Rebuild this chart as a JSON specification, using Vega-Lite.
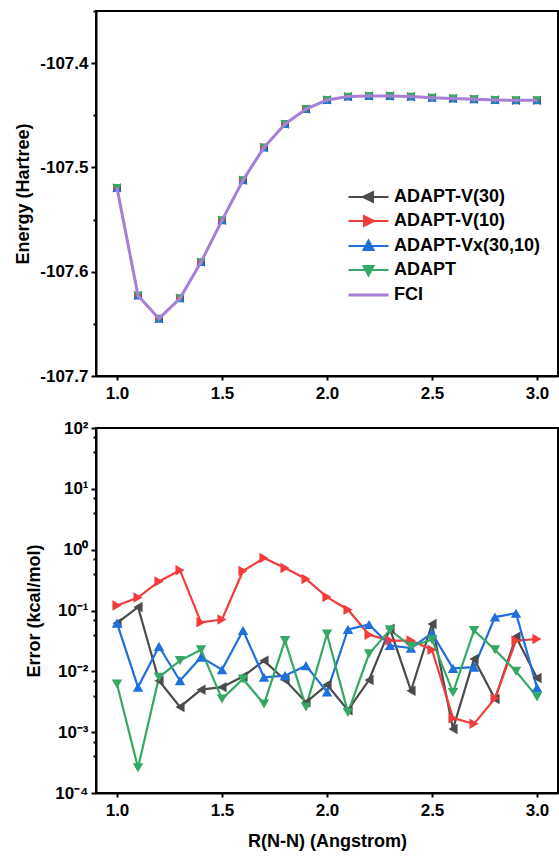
{
  "$schema": "https://vega.github.io/schema/vega-lite/v6.json",
  "autosize": {"type": "pad"},
  "padding": {"left": 13, "top": 9, "right": 0, "bottom": 0},
  "spacing": 52,
  "bounds": "flush",
  "config": {
    "view": {"stroke": "black", "strokeWidth": 2},
    "font": "Liberation Sans",
    "axis": {
      "labelFont": "Liberation Sans", "labelFontSize": 17, "labelFontWeight": "bold", "labelColor": "black",
      "titleFont": "Liberation Sans", "titleFontSize": 18, "titleFontWeight": "bold", "titleColor": "black",
      "domainColor": "black", "domainWidth": 2, "tickColor": "black", "tickWidth": 2, "grid": false, "labelPadding": 3
    }
  },
  "resolve": {"legend": {"color": "independent"}},
  "datasets": {
    "energy": [
      {"R":1.0,"method":"ADAPT-V(30)","E":-107.5196},{"R":1.1,"method":"ADAPT-V(30)","E":-107.6228},{"R":1.2,"method":"ADAPT-V(30)","E":-107.645},{"R":1.3,"method":"ADAPT-V(30)","E":-107.6254},{"R":1.4,"method":"ADAPT-V(30)","E":-107.5908},{"R":1.5,"method":"ADAPT-V(30)","E":-107.5507},{"R":1.6,"method":"ADAPT-V(30)","E":-107.5122},{"R":1.7,"method":"ADAPT-V(30)","E":-107.4808},{"R":1.8,"method":"ADAPT-V(30)","E":-107.4584},{"R":1.9,"method":"ADAPT-V(30)","E":-107.444},{"R":2.0,"method":"ADAPT-V(30)","E":-107.4353},{"R":2.1,"method":"ADAPT-V(30)","E":-107.4321},{"R":2.2,"method":"ADAPT-V(30)","E":-107.4314},{"R":2.3,"method":"ADAPT-V(30)","E":-107.4314},{"R":2.4,"method":"ADAPT-V(30)","E":-107.4321},{"R":2.5,"method":"ADAPT-V(30)","E":-107.4331},{"R":2.6,"method":"ADAPT-V(30)","E":-107.434},{"R":2.7,"method":"ADAPT-V(30)","E":-107.4346},{"R":2.8,"method":"ADAPT-V(30)","E":-107.4353},{"R":2.9,"method":"ADAPT-V(30)","E":-107.4356},{"R":3.0,"method":"ADAPT-V(30)","E":-107.4356},
      {"R":1.0,"method":"ADAPT-V(10)","E":-107.5196},{"R":1.1,"method":"ADAPT-V(10)","E":-107.6228},{"R":1.2,"method":"ADAPT-V(10)","E":-107.645},{"R":1.3,"method":"ADAPT-V(10)","E":-107.6254},{"R":1.4,"method":"ADAPT-V(10)","E":-107.5908},{"R":1.5,"method":"ADAPT-V(10)","E":-107.5507},{"R":1.6,"method":"ADAPT-V(10)","E":-107.5122},{"R":1.7,"method":"ADAPT-V(10)","E":-107.4808},{"R":1.8,"method":"ADAPT-V(10)","E":-107.4584},{"R":1.9,"method":"ADAPT-V(10)","E":-107.444},{"R":2.0,"method":"ADAPT-V(10)","E":-107.4353},{"R":2.1,"method":"ADAPT-V(10)","E":-107.4321},{"R":2.2,"method":"ADAPT-V(10)","E":-107.4314},{"R":2.3,"method":"ADAPT-V(10)","E":-107.4314},{"R":2.4,"method":"ADAPT-V(10)","E":-107.4321},{"R":2.5,"method":"ADAPT-V(10)","E":-107.4331},{"R":2.6,"method":"ADAPT-V(10)","E":-107.434},{"R":2.7,"method":"ADAPT-V(10)","E":-107.4346},{"R":2.8,"method":"ADAPT-V(10)","E":-107.4353},{"R":2.9,"method":"ADAPT-V(10)","E":-107.4356},{"R":3.0,"method":"ADAPT-V(10)","E":-107.4356},
      {"R":1.0,"method":"ADAPT-Vx(30,10)","E":-107.5196},{"R":1.1,"method":"ADAPT-Vx(30,10)","E":-107.6228},{"R":1.2,"method":"ADAPT-Vx(30,10)","E":-107.645},{"R":1.3,"method":"ADAPT-Vx(30,10)","E":-107.6254},{"R":1.4,"method":"ADAPT-Vx(30,10)","E":-107.5908},{"R":1.5,"method":"ADAPT-Vx(30,10)","E":-107.5507},{"R":1.6,"method":"ADAPT-Vx(30,10)","E":-107.5122},{"R":1.7,"method":"ADAPT-Vx(30,10)","E":-107.4808},{"R":1.8,"method":"ADAPT-Vx(30,10)","E":-107.4584},{"R":1.9,"method":"ADAPT-Vx(30,10)","E":-107.444},{"R":2.0,"method":"ADAPT-Vx(30,10)","E":-107.4353},{"R":2.1,"method":"ADAPT-Vx(30,10)","E":-107.4321},{"R":2.2,"method":"ADAPT-Vx(30,10)","E":-107.4314},{"R":2.3,"method":"ADAPT-Vx(30,10)","E":-107.4314},{"R":2.4,"method":"ADAPT-Vx(30,10)","E":-107.4321},{"R":2.5,"method":"ADAPT-Vx(30,10)","E":-107.4331},{"R":2.6,"method":"ADAPT-Vx(30,10)","E":-107.434},{"R":2.7,"method":"ADAPT-Vx(30,10)","E":-107.4346},{"R":2.8,"method":"ADAPT-Vx(30,10)","E":-107.4353},{"R":2.9,"method":"ADAPT-Vx(30,10)","E":-107.4356},{"R":3.0,"method":"ADAPT-Vx(30,10)","E":-107.4356},
      {"R":1.0,"method":"ADAPT","E":-107.5196},{"R":1.1,"method":"ADAPT","E":-107.6228},{"R":1.2,"method":"ADAPT","E":-107.645},{"R":1.3,"method":"ADAPT","E":-107.6254},{"R":1.4,"method":"ADAPT","E":-107.5908},{"R":1.5,"method":"ADAPT","E":-107.5507},{"R":1.6,"method":"ADAPT","E":-107.5122},{"R":1.7,"method":"ADAPT","E":-107.4808},{"R":1.8,"method":"ADAPT","E":-107.4584},{"R":1.9,"method":"ADAPT","E":-107.444},{"R":2.0,"method":"ADAPT","E":-107.4353},{"R":2.1,"method":"ADAPT","E":-107.4321},{"R":2.2,"method":"ADAPT","E":-107.4314},{"R":2.3,"method":"ADAPT","E":-107.4314},{"R":2.4,"method":"ADAPT","E":-107.4321},{"R":2.5,"method":"ADAPT","E":-107.4331},{"R":2.6,"method":"ADAPT","E":-107.434},{"R":2.7,"method":"ADAPT","E":-107.4346},{"R":2.8,"method":"ADAPT","E":-107.4353},{"R":2.9,"method":"ADAPT","E":-107.4356},{"R":3.0,"method":"ADAPT","E":-107.4356},
      {"R":1.0,"method":"FCI","E":-107.5196},{"R":1.1,"method":"FCI","E":-107.6228},{"R":1.2,"method":"FCI","E":-107.645},{"R":1.3,"method":"FCI","E":-107.6254},{"R":1.4,"method":"FCI","E":-107.5908},{"R":1.5,"method":"FCI","E":-107.5507},{"R":1.6,"method":"FCI","E":-107.5122},{"R":1.7,"method":"FCI","E":-107.4808},{"R":1.8,"method":"FCI","E":-107.4584},{"R":1.9,"method":"FCI","E":-107.444},{"R":2.0,"method":"FCI","E":-107.4353},{"R":2.1,"method":"FCI","E":-107.4321},{"R":2.2,"method":"FCI","E":-107.4314},{"R":2.3,"method":"FCI","E":-107.4314},{"R":2.4,"method":"FCI","E":-107.4321},{"R":2.5,"method":"FCI","E":-107.4331},{"R":2.6,"method":"FCI","E":-107.434},{"R":2.7,"method":"FCI","E":-107.4346},{"R":2.8,"method":"FCI","E":-107.4353},{"R":2.9,"method":"FCI","E":-107.4356},{"R":3.0,"method":"FCI","E":-107.4356}
    ],
    "error": [
      {"R":1.0,"method":"ADAPT-V(30)","err":0.062},{"R":1.1,"method":"ADAPT-V(30)","err":0.114},{"R":1.2,"method":"ADAPT-V(30)","err":0.007},{"R":1.3,"method":"ADAPT-V(30)","err":0.0026},{"R":1.4,"method":"ADAPT-V(30)","err":0.005},{"R":1.5,"method":"ADAPT-V(30)","err":0.0055},{"R":1.6,"method":"ADAPT-V(30)","err":0.0082},{"R":1.7,"method":"ADAPT-V(30)","err":0.015},{"R":1.8,"method":"ADAPT-V(30)","err":0.0072},{"R":1.9,"method":"ADAPT-V(30)","err":0.0031},{"R":2.0,"method":"ADAPT-V(30)","err":0.006},{"R":2.1,"method":"ADAPT-V(30)","err":0.0023},{"R":2.2,"method":"ADAPT-V(30)","err":0.0072},{"R":2.3,"method":"ADAPT-V(30)","err":0.05},{"R":2.4,"method":"ADAPT-V(30)","err":0.0048},{"R":2.5,"method":"ADAPT-V(30)","err":0.06},{"R":2.6,"method":"ADAPT-V(30)","err":0.00113},{"R":2.7,"method":"ADAPT-V(30)","err":0.016},{"R":2.8,"method":"ADAPT-V(30)","err":0.0035},{"R":2.9,"method":"ADAPT-V(30)","err":0.037},{"R":3.0,"method":"ADAPT-V(30)","err":0.0078},
      {"R":1.0,"method":"ADAPT-V(10)","err":0.121},{"R":1.1,"method":"ADAPT-V(10)","err":0.163},{"R":1.2,"method":"ADAPT-V(10)","err":0.3},{"R":1.3,"method":"ADAPT-V(10)","err":0.46},{"R":1.4,"method":"ADAPT-V(10)","err":0.064},{"R":1.5,"method":"ADAPT-V(10)","err":0.071},{"R":1.6,"method":"ADAPT-V(10)","err":0.446},{"R":1.7,"method":"ADAPT-V(10)","err":0.73},{"R":1.8,"method":"ADAPT-V(10)","err":0.5},{"R":1.9,"method":"ADAPT-V(10)","err":0.33},{"R":2.0,"method":"ADAPT-V(10)","err":0.166},{"R":2.1,"method":"ADAPT-V(10)","err":0.103},{"R":2.2,"method":"ADAPT-V(10)","err":0.04},{"R":2.3,"method":"ADAPT-V(10)","err":0.032},{"R":2.4,"method":"ADAPT-V(10)","err":0.032},{"R":2.5,"method":"ADAPT-V(10)","err":0.0226},{"R":2.6,"method":"ADAPT-V(10)","err":0.0017},{"R":2.7,"method":"ADAPT-V(10)","err":0.00137},{"R":2.8,"method":"ADAPT-V(10)","err":0.0036},{"R":2.9,"method":"ADAPT-V(10)","err":0.032},{"R":3.0,"method":"ADAPT-V(10)","err":0.034},
      {"R":1.0,"method":"ADAPT-Vx(30,10)","err":0.062},{"R":1.1,"method":"ADAPT-Vx(30,10)","err":0.0055},{"R":1.2,"method":"ADAPT-Vx(30,10)","err":0.0257},{"R":1.3,"method":"ADAPT-Vx(30,10)","err":0.007},{"R":1.4,"method":"ADAPT-Vx(30,10)","err":0.0171},{"R":1.5,"method":"ADAPT-Vx(30,10)","err":0.0106},{"R":1.6,"method":"ADAPT-Vx(30,10)","err":0.047},{"R":1.7,"method":"ADAPT-Vx(30,10)","err":0.008},{"R":1.8,"method":"ADAPT-Vx(30,10)","err":0.0085},{"R":1.9,"method":"ADAPT-Vx(30,10)","err":0.0124},{"R":2.0,"method":"ADAPT-Vx(30,10)","err":0.0046},{"R":2.1,"method":"ADAPT-Vx(30,10)","err":0.049},{"R":2.2,"method":"ADAPT-Vx(30,10)","err":0.059},{"R":2.3,"method":"ADAPT-Vx(30,10)","err":0.0266},{"R":2.4,"method":"ADAPT-Vx(30,10)","err":0.024},{"R":2.5,"method":"ADAPT-Vx(30,10)","err":0.0425},{"R":2.6,"method":"ADAPT-Vx(30,10)","err":0.0112},{"R":2.7,"method":"ADAPT-Vx(30,10)","err":0.0117},{"R":2.8,"method":"ADAPT-Vx(30,10)","err":0.078},{"R":2.9,"method":"ADAPT-Vx(30,10)","err":0.09},{"R":3.0,"method":"ADAPT-Vx(30,10)","err":0.0054},
      {"R":1.0,"method":"ADAPT","err":0.0062},{"R":1.1,"method":"ADAPT","err":0.00026},{"R":1.2,"method":"ADAPT","err":0.008},{"R":1.3,"method":"ADAPT","err":0.015},{"R":1.4,"method":"ADAPT","err":0.0227},{"R":1.5,"method":"ADAPT","err":0.0035},{"R":1.6,"method":"ADAPT","err":0.0075},{"R":1.7,"method":"ADAPT","err":0.0029},{"R":1.8,"method":"ADAPT","err":0.032},{"R":1.9,"method":"ADAPT","err":0.0026},{"R":2.0,"method":"ADAPT","err":0.041},{"R":2.1,"method":"ADAPT","err":0.0021},{"R":2.2,"method":"ADAPT","err":0.0194},{"R":2.3,"method":"ADAPT","err":0.048},{"R":2.4,"method":"ADAPT","err":0.0257},{"R":2.5,"method":"ADAPT","err":0.033},{"R":2.6,"method":"ADAPT","err":0.0045},{"R":2.7,"method":"ADAPT","err":0.047},{"R":2.8,"method":"ADAPT","err":0.0227},{"R":2.9,"method":"ADAPT","err":0.01},{"R":3.0,"method":"ADAPT","err":0.0038}
    ]
  },
  "vconcat": [
    {
      "width": 462,
      "height": 365,
      "data": {"name": "energy"},
      "encoding": {
        "x": {"field": "R", "type": "quantitative", "scale": {"domain": [0.9, 3.1], "nice": false, "zero": false},
              "axis": {"title": null, "values": [1, 1.5, 2, 2.5, 3], "format": ".1f", "tickSize": 4, "labelPadding": 5}},
        "y": {"field": "E", "type": "quantitative", "scale": {"domain": [-107.7, -107.35], "nice": false, "zero": false},
              "axis": {"title": "Energy (Hartree)", "titlePadding": 7,
                       "values": [-107.7, -107.65, -107.6, -107.55, -107.5, -107.45, -107.4, -107.35],
                       "labelExpr": "abs(datum.value*10 - round(datum.value*10)) < 0.01 ? '-' + format(abs(datum.value), '.1f') : ''",
                       "tickSize": {"condition": {"test": "abs(datum.value*10 - round(datum.value*10)) < 0.01", "value": 5}, "value": 3}}},
        "color": {"field": "method", "type": "nominal",
                  "scale": {"domain": ["ADAPT-V(30)", "ADAPT-V(10)", "ADAPT-Vx(30,10)", "ADAPT", "FCI"],
                            "range": ["#4b4b4b", "#f23c3c", "#1f6fdc", "#35a865", "#a77fd8"]},
                  "legend": {"title": null, "orient": "none", "legendX": 263.5, "legendY": 177, "padding": 0,
                             "labelFont": "Liberation Sans", "labelFontSize": 18, "labelFontWeight": "bold", "labelColor": "black",
                             "symbolSize": 100, "labelOffset": 16.5, "rowPadding": 6,
                             "encode": {"symbols": {"update": {
                               "shape": {"signal": "datum.value === 'ADAPT-V(30)' ? 'M-4,0H4M-1.1,0L0.9,-1L0.9,1Z' : datum.value === 'ADAPT-V(10)' ? 'M-4,0H4M1.1,0L-0.9,-1L-0.9,1Z' : datum.value === 'ADAPT-Vx(30,10)' ? 'M-4,0H4M0,-1.1L1,0.8L-1,0.8Z' : datum.value === 'ADAPT' ? 'M-4,0H4M0,1.1L1,-0.8L-1,-0.8Z' : 'M-4,0H4'"},
                               "fill": {"scale": "color", "field": "value"},
                               "stroke": {"scale": "color", "field": "value"},
                               "strokeWidth": {"signal": "datum.value === 'FCI' ? 3 : 2"},
                               "opacity": {"value": 1}, "fillOpacity": {"value": 1}, "strokeOpacity": {"value": 1}}}}}}
      },
      "layer": [
        {"transform": [{"filter": "datum.method !== 'FCI'"}], "mark": {"type": "line", "strokeWidth": 1.5}},
        {"transform": [{"filter": "datum.method !== 'FCI'"}], "mark": {"type": "point", "filled": true, "size": 85, "opacity": 1},
         "encoding": {"shape": {"field": "method", "type": "nominal",
                                "scale": {"domain": ["ADAPT-V(30)", "ADAPT-V(10)", "ADAPT-Vx(30,10)", "ADAPT"],
                                          "range": ["triangle-left", "triangle-right", "triangle-up", "triangle-down"]},
                                "legend": null}}},
        {"transform": [{"filter": "datum.method === 'FCI'"}], "mark": {"type": "line", "strokeWidth": 3}}
      ]
    },
    {
      "width": 462,
      "height": 365,
      "data": {"name": "error"},
      "encoding": {
        "x": {"field": "R", "type": "quantitative", "scale": {"domain": [0.9, 3.1], "nice": false, "zero": false},
              "axis": {"title": "R(N-N) (Angstrom)", "titlePadding": 14, "values": [1, 1.5, 2, 2.5, 3], "format": ".1f", "tickSize": 4, "labelPadding": 5}},
        "y": {"field": "err", "type": "quantitative", "scale": {"type": "log", "domain": [0.0001, 100], "nice": false},
              "axis": {"title": "Error (kcal/mol)", "titlePadding": 11,
                       "values": [0.0001, 0.0004, 0.0007, 0.001, 0.004, 0.007, 0.01, 0.04, 0.07, 0.1, 0.4, 0.7, 1, 4, 7, 10, 40, 70, 100],
                       "labelExpr": "abs(log(datum.value)/LN10 - round(log(datum.value)/LN10)) < 0.01 ? ['10⁻⁴','10⁻³','10⁻²','10⁻¹','10⁰','10¹','10²'][round(log(datum.value)/LN10) + 4] : ''",
                       "tickSize": {"condition": {"test": "abs(log(datum.value)/LN10 - round(log(datum.value)/LN10)) < 0.01", "value": 5}, "value": 3}}},
        "color": {"field": "method", "type": "nominal", "legend": null}
      },
      "layer": [
        {"mark": {"type": "line", "strokeWidth": 2.2}},
        {"mark": {"type": "point", "filled": true, "size": 110, "opacity": 1},
         "encoding": {"shape": {"field": "method", "type": "nominal", "legend": null}}}
      ]
    }
  ]
}
